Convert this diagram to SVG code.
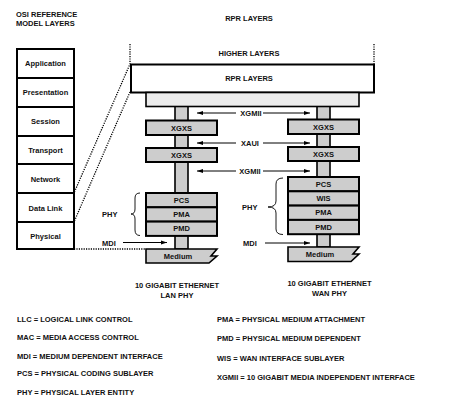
<svg xmlns="http://www.w3.org/2000/svg" width="462" height="405" viewBox="0 0 462 405">
<defs>
<style>
text{font-family:"Liberation Sans",Arial,sans-serif;font-weight:bold;font-size:7.5px;fill:#111}
.c{text-anchor:middle}
.box{fill:#cdcdcd;stroke:#000;stroke-width:2}
.osi{fill:#fff;stroke:#000;stroke-width:2}
.dot{fill:none;stroke:#000;stroke-width:1.3;stroke-dasharray:1.2 1.2}
.ln{fill:none;stroke:#000;stroke-width:1}
.br{fill:none;stroke:#000;stroke-width:0.9}
</style>
<marker id="ah" viewBox="0 0 6 6" refX="6" refY="3" markerWidth="6" markerHeight="6" markerUnits="userSpaceOnUse" orient="auto-start-reverse">
<path d="M0,1 L6,3 L0,5 Z" fill="#000"/>
</marker>
</defs>
<rect width="462" height="405" fill="#fff"/>

<text x="16" y="16.5">OSI REFERENCE</text>
<text x="16" y="26">MODEL LAYERS</text>
<text class="c" x="249" y="20.5">RPR LAYERS</text>

<g id="osi">
<rect class="osi" x="17" y="49" width="57" height="200"/>
<line class="ln" style="stroke-width:2" x1="17" y1="78" x2="74" y2="78"/>
<line class="ln" style="stroke-width:2" x1="17" y1="107" x2="74" y2="107"/>
<line class="ln" style="stroke-width:2" x1="17" y1="136" x2="74" y2="136"/>
<line class="ln" style="stroke-width:2" x1="17" y1="164" x2="74" y2="164"/>
<line class="ln" style="stroke-width:2" x1="17" y1="193" x2="74" y2="193"/>
<line class="ln" style="stroke-width:2" x1="17" y1="222" x2="74" y2="222"/>
<text class="c" x="45.5" y="66">Application</text>
<text class="c" x="45.5" y="95">Presentation</text>
<text class="c" x="45.5" y="124">Session</text>
<text class="c" x="45.5" y="152.5">Transport</text>
<text class="c" x="45.5" y="181.5">Network</text>
<text class="c" x="45.5" y="210.5">Data Link</text>
<text class="c" x="45.5" y="238.5">Physical</text>
</g>

<g id="connectors">
<path class="dot" d="M130,44 L130,64 L74,193"/>
<path class="dot" d="M130,92 L74,222"/>
<path class="dot" d="M374,44 L374,64"/>
<path class="dot" d="M74,249 L146,249"/>
<line class="ln" x1="236" y1="113" x2="197" y2="113" marker-end="url(#ah)"/>
<line class="ln" x1="263" y1="113" x2="310" y2="113" marker-end="url(#ah)"/>
<line class="ln" x1="236" y1="143" x2="197" y2="143" marker-end="url(#ah)"/>
<line class="ln" x1="263" y1="143" x2="310" y2="143" marker-end="url(#ah)"/>
<line class="ln" x1="236" y1="171" x2="197" y2="171" marker-end="url(#ah)"/>
<line class="ln" x1="263" y1="171" x2="310" y2="171" marker-end="url(#ah)"/>
<line class="ln" x1="123" y1="242.5" x2="167" y2="242.5" marker-end="url(#ah)"/>
<line class="ln" x1="265" y1="243" x2="310" y2="243" marker-end="url(#ah)"/>
<path class="br" d="M140,193 Q135,193 135,198 L135,209 Q135,214 131,214 Q135,214 135,219 L135,230 Q135,235.5 140,235.5"/>
<path class="br" d="M283,178 Q276,178 276,184 L276,201 Q276,207 268,207 Q276,207 276,213 L276,229 Q276,234.5 283,234.5"/>
</g>
<text class="c" x="251" y="115.5">XGMII</text>
<text class="c" x="250" y="145.5">XAUI</text>
<text class="c" x="250" y="173.5">XGMII</text>
<text x="102" y="216.5">PHY</text>
<text x="102" y="245.5">MDI</text>
<text x="242" y="209.5">PHY</text>
<text x="243" y="245.5">MDI</text>

<g id="higher"><text class="c" x="249" y="55.5">HIGHER LAYERS</text></g>
<g id="rpr">
<rect x="131" y="64.5" width="243" height="28" fill="#fff" stroke="#000" stroke-width="2"/>
<text class="c" x="249" y="80.5">RPR  LAYERS</text>
</g>

<g id="lan-col"><rect x="175" y="106" width="13" height="143" fill="#cdcdcd" stroke="#000" stroke-width="1.6"/></g>
<g id="wan-col"><rect x="317" y="106" width="13" height="141" fill="#cdcdcd" stroke="#000" stroke-width="1.6"/></g>

<g id="bar"><rect x="146" y="92.5" width="213" height="14" fill="#ebebeb" stroke="#000" stroke-width="1.6"/></g>

<g id="lan-xgxs1"><rect class="box" x="146" y="120.5" width="71" height="14.5"/><text class="c" x="181.5" y="130.5">XGXS</text></g>
<g id="lan-xgxs2"><rect class="box" x="146" y="148" width="71" height="14"/><text class="c" x="181.5" y="157.8">XGXS</text></g>
<g id="lan-pcs"><rect class="box" x="146" y="193" width="71" height="14.3"/><text class="c" x="181.5" y="202.8">PCS</text></g>
<g id="lan-pma"><rect class="box" x="146" y="207.3" width="71" height="14.3"/><text class="c" x="181.5" y="217.1">PMA</text></g>
<g id="lan-pmd"><rect class="box" x="146" y="221.6" width="71" height="14.3"/><text class="c" x="181.5" y="231.4">PMD</text></g>
<g id="lan-medium"><path class="box" style="stroke-width:1.6" d="M146,249 L217,249 L211,256 L217,256 L209,263 L146,263 Z"/><text class="c" x="178" y="258.8">Medium</text></g>

<g id="wan-xgxs1"><rect class="box" x="288" y="119.5" width="71" height="14.5"/><text class="c" x="323.5" y="129.5">XGXS</text></g>
<g id="wan-xgxs2"><rect class="box" x="288" y="147" width="71" height="14"/><text class="c" x="323.5" y="156.8">XGXS</text></g>
<g id="wan-pcs"><rect class="box" x="288" y="177" width="71" height="14.3"/><text class="c" x="323.5" y="186.8">PCS</text></g>
<g id="wan-wis"><rect class="box" x="288" y="191.3" width="71" height="14.3"/><text class="c" x="323.5" y="201.1">WIS</text></g>
<g id="wan-pma"><rect class="box" x="288" y="205.6" width="71" height="14.3"/><text class="c" x="323.5" y="215.4">PMA</text></g>
<g id="wan-pmd"><rect class="box" x="288" y="219.9" width="71" height="14.3"/><text class="c" x="323.5" y="229.7">PMD</text></g>
<g id="wan-medium"><path class="box" style="stroke-width:1.6" d="M288,247 L359,247 L353,254 L359,254 L351,261.5 L288,261.5 Z"/><text class="c" x="320" y="257">Medium</text></g>

<text class="c" x="177" y="287.5">10 GIGABIT ETHERNET</text>
<text class="c" x="177" y="297.5">LAN PHY</text>
<text class="c" x="329.5" y="285.5">10 GIGABIT ETHERNET</text>
<text class="c" x="329.5" y="295.5">WAN PHY</text>

<g id="legend">
<text x="17" y="321.5">LLC = LOGICAL LINK CONTROL</text>
<text x="17" y="340">MAC = MEDIA ACCESS CONTROL</text>
<text x="17" y="358.5">MDI = MEDIUM DEPENDENT INTERFACE</text>
<text x="17" y="376">PCS = PHYSICAL CODING SUBLAYER</text>
<text x="17" y="394.5">PHY = PHYSICAL LAYER ENTITY</text>
<text x="217" y="321.5">PMA = PHYSICAL MEDIUM ATTACHMENT</text>
<text x="217" y="340.5">PMD = PHYSICAL MEDIUM DEPENDENT</text>
<text x="217" y="360.5">WIS = WAN INTERFACE SUBLAYER</text>
<text x="217" y="380">XGMII = 10 GIGABIT MEDIA INDEPENDENT INTERFACE</text>
</g>
</svg>
